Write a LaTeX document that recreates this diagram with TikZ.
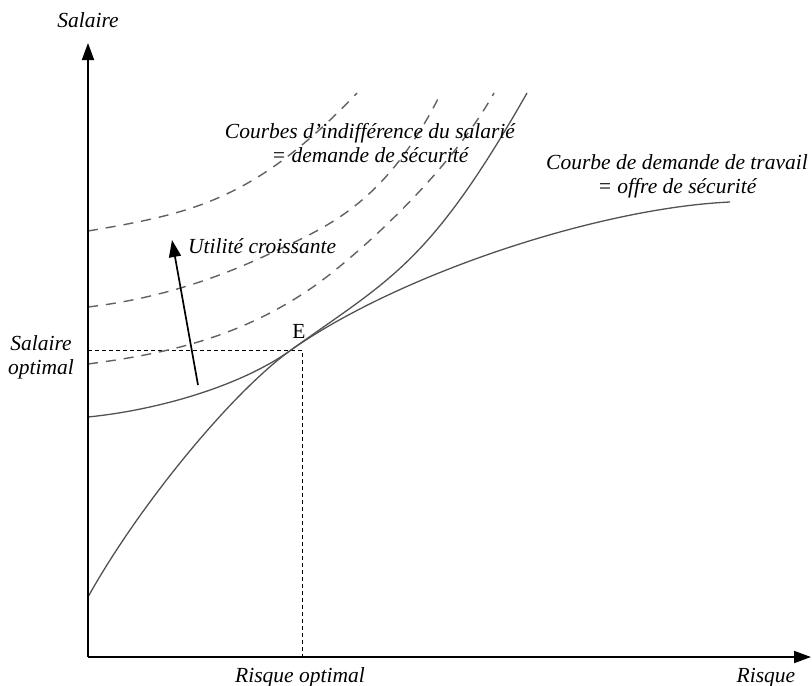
\documentclass[tikz,border=0pt]{standalone}
\usepackage{fontspec}
\setmainfont{Liberation Serif}
\usetikzlibrary{arrows.meta}
\begin{document}
\begin{tikzpicture}[x=1pt,y=-1pt,
  lbl/.style={font=\fontsize{21.5}{24}\selectfont\itshape, inner sep=0pt, align=center},
  axisline/.style={line width=1.8pt, draw=black, -{Triangle[length=17pt,width=12pt]}},
  solidcurve/.style={line width=1.3pt, draw=black!68},
  dashcurve/.style={line width=1.4pt, draw=black!62, dash pattern=on 10pt off 8pt},
  guide/.style={line width=0.9pt, draw=black, dash pattern=on 4pt off 3pt}]
\useasboundingbox (0,0) rectangle (812,686);
% key points
\coordinate (O) at (88,657);
\coordinate (ytip) at (88,43);
\coordinate (xtip) at (811,657);
\coordinate (Ept) at (291,350);
\coordinate (ys) at (88,350);
\coordinate (xs) at (302,657);
\coordinate (corner) at (302,350);
% guide lines
\draw[guide] (ys) -- (corner) -- (xs);
% dashed indifference curves (higher utility)
\draw[dashcurve] (88,231) .. controls (191,213.5) and (254,201) .. (357,93);
\draw[dashcurve] (88,307) .. controls (148,300) and (207,283) .. (267,255)
                          .. controls (324,228) and (384,207) .. (441,93);
\draw[dashcurve] (88,364) .. controls (163,354) and (238,339) .. (313,287)
                          .. controls (357,256) and (450,172) .. (494,93);
% solid indifference curve through E
\draw[solidcurve] (88,417) .. controls (158,410) and (241,386) .. (Ept)
                           .. controls (389,279.4) and (429,265.5) .. (527,93);
% labour demand curve
\draw[solidcurve] (88,597) .. controls (138,507) and (231,393) .. (Ept)
                           .. controls (401,273) and (600,208) .. (730,202);
% axes
\draw[axisline] (O) -- (ytip);
\draw[axisline] (O) -- (xtip);
% utility arrow
\coordinate (ua0) at (198,385);
\coordinate (ua1) at (172,240);
\draw[line width=1.7pt, -{Triangle[length=17pt,width=12pt]}] (ua0) -- (ua1);
% labels
\node[lbl, anchor=base] (salaire) at (88,27) {Salaire};
\node[lbl, anchor=base] (risque) at (766,682) {Risque};
\node[lbl, anchor=base] (risqueopt) at (300,682) {Risque optimal};
\node[lbl, anchor=base] (salaireopt) at (41,374) {Salaire\\optimal};
\node[lbl, anchor=base] (courbesind) at (370,162) {Courbes d’indifférence du salarié\\= demande de sécurité};
\node[lbl, anchor=base] (courbedem) at (677,193) {Courbe de demande de travail\\= offre de sécurité};
\node[lbl, anchor=base west] (utilite) at (188,253) {Utilité croissante};
\node[font=\fontsize{21.5}{24}\selectfont, inner sep=0pt] (E) at (299,331) {E};
\end{tikzpicture}
\end{document}
